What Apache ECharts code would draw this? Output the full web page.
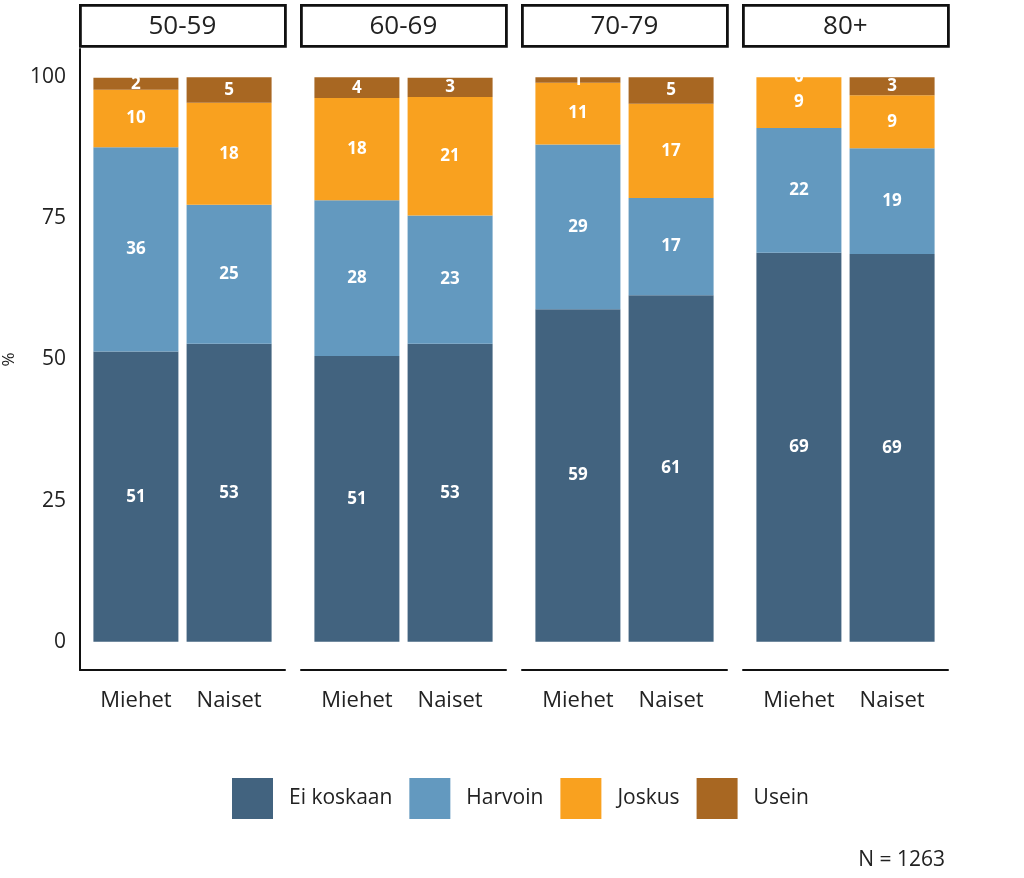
<!DOCTYPE html>
<html>
<head>
<meta charset="utf-8">
<script src="https://cdn.jsdelivr.net/npm/echarts@6/dist/echarts.min.js"></script>
<style>
html,body{margin:0;padding:0;background:#fff;}
#chart{width:1024px;height:878px;}
</style>
</head>
<body>
<div id="chart"></div>
<script>
// ---- data ----
const ageGroups = ['50-59', '60-69', '70-79', '80+'];
const sexes = ['Miehet', 'Naiset'];
const levels = ['Ei koskaan', 'Harvoin', 'Joskus', 'Usein'];
// values per bar, order: [50-59 M, 50-59 N, 60-69 M, 60-69 N, 70-79 M, 70-79 N, 80+ M, 80+ N]
const eiKoskaan = [51.4, 52.8, 50.6, 52.8, 58.9, 61.4, 68.9, 68.7];
const harvoin   = [36.2, 24.6, 27.6, 22.7, 29.2, 17.2, 22.1, 18.7];
const joskus    = [10.2, 18.1, 18.1, 21.0, 10.9, 16.7,  9.0,  9.4];
const usein     = [ 2.1,  4.5,  3.7,  3.4,  1.0,  4.7,  0.0,  3.2];
const yTicks = [0, 25, 50, 75, 100];
const nText = 'N = 1263';

const levelValues = [eiKoskaan, harvoin, joskus, usein];
const colors = ['#42637F', '#6399BF', '#F9A11F', '#A86722'];
const FONT = '"Open Sans", "Noto Sans", sans-serif';

// ---- layout ----
const panelLeft0 = 80, panelStep = 221, panelW = 205;
const gridTop = 49, gridBottomY = 670;
const unit = panelW / 2.2;          // discrete scale expanded by 0.6 each side
const barGridInset = 0.1 * unit;    // bar grid spans 0.5..2.5

const grids = [], xAxes = [], yAxes = [], series = [], graphics = [];
ageGroups.forEach((age, p) => {
  const left = panelLeft0 + p * panelStep;
  const gFrame = grids.length;
  // frame grid: axis lines
  grids.push({left: left, top: gridTop, width: panelW, height: gridBottomY - gridTop});
  xAxes.push({
    gridIndex: gFrame, type: 'value', min: 0, max: 1,
    axisLine: {show: true, onZero: false, lineStyle: {color: '#111', width: 2}},
    axisTick: {show: false}, splitLine: {show: false}, axisLabel: {show: false}
  });
  yAxes.push({
    gridIndex: gFrame, type: 'value', min: -5, max: 105,
    show: p === 0,
    name: p === 0 ? '%' : '',
    nameLocation: 'middle', nameGap: 62,
    nameTextStyle: {color: '#222', fontSize: 17, fontFamily: FONT},
    axisLine: {show: true, onZero: false, lineStyle: {color: '#111', width: 2}},
    axisTick: {show: false},
    splitLine: {show: false},
    axisLabel: {customValues: yTicks, color: '#222', fontSize: 21, fontFamily: FONT, margin: 14}
  });
  // bar grid
  const gBar = grids.length;
  grids.push({left: left + barGridInset, top: gridTop, width: panelW - 2 * barGridInset, height: gridBottomY - gridTop});
  xAxes.push({
    gridIndex: gBar, type: 'category', data: sexes,
    axisLine: {show: false}, axisTick: {show: false}, splitLine: {show: false},
    axisLabel: {color: '#222', fontSize: 22, fontFamily: FONT, margin: 20}
  });
  yAxes.push({
    gridIndex: gBar, type: 'value', min: -5, max: 105, show: false,
    splitLine: {show: false}
  });
  levels.forEach((lvl, li) => {
    series.push({
      name: lvl, type: 'bar', xAxisIndex: gBar, yAxisIndex: gBar,
      stack: 'panel' + p, barWidth: 85,
      itemStyle: {color: colors[li]},
      label: {
        show: true, position: 'inside', color: '#fff',
        fontWeight: 'bold', fontSize: 17, fontFamily: FONT,
        formatter: prm => String(Math.round(prm.value))
      },
      data: sexes.map((s, si) => levelValues[li][p * 2 + si])
    });
  });
  // facet strip
  graphics.push({
    type: 'group', left: left - 1, top: 4,
    children: [
      {type: 'rect', shape: {x: 1.5, y: 1.5, width: panelW, height: 41},
       style: {fill: '#fff', stroke: '#111', lineWidth: 2.8}},
      {type: 'text', style: {text: age, x: (panelW + 2) / 2, y: 23, align: 'center', verticalAlign: 'middle',
        fill: '#222', fontSize: 26, fontFamily: FONT}}
    ]
  });
});

const chart = echarts.init(document.getElementById('chart'), null, {renderer: 'canvas'});
chart.setOption({
  animation: false,
  backgroundColor: '#fff',
  title: {
    text: nText, right: 74, top: 845,
    textStyle: {color: '#222', fontSize: 21, fontWeight: 'normal', fontFamily: FONT}
  },
  legend: {
    data: levels, left: 227, top: 773,
    itemWidth: 41, itemHeight: 41, itemGap: 17,
    icon: 'rect',
    textStyle: {color: '#222', fontSize: 21, fontFamily: FONT, padding: [3, 0, 0, 11]}
  },
  grid: grids,
  xAxis: xAxes,
  yAxis: yAxes,
  series: series,
  graphic: graphics
});
</script>
</body>
</html>
